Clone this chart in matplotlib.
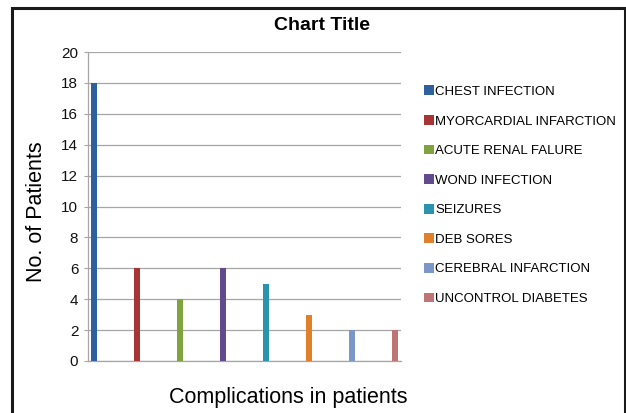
import matplotlib
matplotlib.use("Agg")
import matplotlib.pyplot as plt
from matplotlib.patches import Rectangle

categories = ["CHEST INFECTION", "MYORCARDIAL INFARCTION", "ACUTE RENAL FALURE",
              "WOND INFECTION", "SEIZURES", "DEB SORES", "CEREBRAL INFARCTION",
              "UNCONTROL DIABETES"]
values = [18, 6, 4, 6, 5, 3, 2, 2]
colors = ["#2E5F9E", "#A73535", "#7FA33E", "#624A8D", "#2C93AE", "#E0802A",
          "#7A97C8", "#C07575"]
yticks = [0, 2, 4, 6, 8, 10, 12, 14, 16, 18, 20]

plt.rcParams['font.family'] = ['Liberation Sans', 'DejaVu Sans']

W, H = 626, 413
fig = plt.figure(figsize=(W / 100, H / 100), dpi=100)
ax = fig.add_axes([88 / W, 1 - 361 / H, (401 - 88) / W, (361 - 52) / H])

handles = []
for i, (c, v, col) in enumerate(zip(categories, values, colors)):
    b = ax.bar(i, v, width=0.13, color=col, label=c, zorder=3)
    handles.append(b)

ax.set_xlim(-0.14, 7.14)
ax.set_ylim(0, 20)
ax.set_yticks(yticks)
ax.set_yticklabels([str(t) for t in yticks], fontsize=11)
ax.set_xticks([])
ax.yaxis.grid(True, color="#A6A6A6", linewidth=0.9, zorder=0)
for s in ["top", "right"]:
    ax.spines[s].set_visible(False)
ax.spines["left"].set_color("#A6A6A6")
ax.spines["bottom"].set_color("#A6A6A6")
ax.spines["left"].set_linewidth(0.9)
ax.spines["bottom"].set_linewidth(0.9)
ax.tick_params(axis="y", length=3, color="#A6A6A6", pad=4, labelcolor="#111111")

fig.text(322 / W, 1 - 25 / H, "Chart Title", fontsize=14, fontweight="bold",
         ha="center", va="center")
fig.text(288 / W, 1 - 397 / H, "Complications in patients", fontsize=15.5,
         ha="center", va="center")
fig.text(36 / W, 1 - 212 / H, "No. of Patients", fontsize=15.5, rotation=90,
         ha="center", va="center")

leg = ax.legend(handles=handles, loc="upper left",
                bbox_to_anchor=(424 / W, 1 - 85.5 / H), bbox_transform=fig.transFigure,
                frameon=False, fontsize=9.5, handlelength=0.75, handleheight=0.75,
                handletextpad=0.1, labelspacing=1.3, borderpad=0, borderaxespad=0)

fig.patches.append(Rectangle((12 / W, -0.05), (625 - 12) / W, 1.05 - 8 / H,
                             transform=fig.transFigure, fill=False,
                             edgecolor="#1a1a1a", linewidth=2.2))

fig.savefig("out.png", dpi=100)
